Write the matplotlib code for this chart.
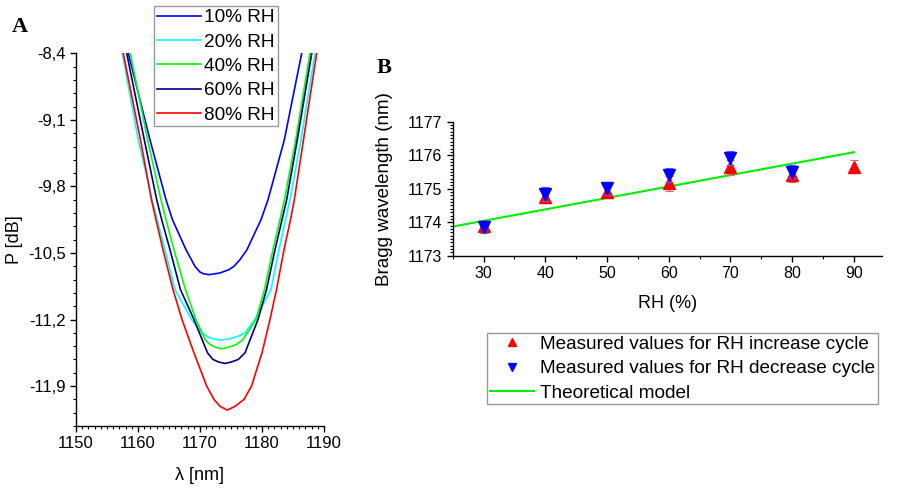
import matplotlib
matplotlib.use("Agg")
import matplotlib.pyplot as plt
from matplotlib.ticker import MultipleLocator, FuncFormatter

plt.rcParams['font.family'] = ['Liberation Sans', 'DejaVu Sans']

# panel A: transmission dips (wavelength nm, power dB)
rh10_x = [1158.44, 1161.94, 1164.52, 1165.56, 1167.74, 1169.19, 1170.0, 1170.65, 1171.5,
          1173.23, 1174.68, 1175.48, 1176.45, 1177.58, 1179.84, 1180.97, 1183.6, 1186.4]
rh10_y = [-8.4, -9.31, -9.94, -10.15, -10.465, -10.64, -10.701, -10.72, -10.728,
          -10.71, -10.675, -10.64, -10.57, -10.465, -10.15, -9.94, -9.31, -8.4]

rh20_x = [1157.47, 1160.05, 1162.26, 1164.35, 1165.97, 1168.66, 1170.27, 1171.61, 1173.23,
          1174.68, 1176.18, 1177.26, 1178.87, 1181.45, 1182.74, 1183.79, 1184.52, 1186.29, 1188.55]
rh20_y = [-8.4, -9.31, -9.94, -10.465, -10.885, -11.2, -11.34, -11.394, -11.417,
          -11.405, -11.375, -11.34, -11.2, -10.885, -10.465, -10.15, -9.94, -9.31, -8.4]

rh40_x = [1158.76, 1161.56, 1163.71, 1164.52, 1165.81, 1167.66, 1169.35, 1170.81, 1171.61, 1172.42, 1173.5,
          1174.68, 1175.89, 1176.94, 1179.03, 1180.4, 1181.77, 1182.9, 1183.63, 1185.44, 1187.74]
rh40_y = [-8.4, -9.31, -9.94, -10.15, -10.465, -10.885, -11.2, -11.41, -11.462, -11.49, -11.508,
          -11.49, -11.462, -11.41, -11.2, -10.885, -10.465, -10.15, -9.94, -9.31, -8.4]

rh60_x = [1158.18, 1161.02, 1163.02, 1163.82, 1165.16, 1166.85, 1169.03, 1171.21, 1172.1, 1172.98, 1174.03,
          1175.08, 1176.18, 1177.26, 1179.35, 1180.73, 1182.1, 1183.23, 1183.98, 1185.69, 1188.02]
rh60_y = [-8.4, -9.31, -9.94, -10.15, -10.465, -10.885, -11.2, -11.55, -11.62, -11.646, -11.662,
          -11.646, -11.62, -11.55, -11.2, -10.885, -10.465, -10.15, -9.94, -9.31, -8.4]

rh80_x = [1157.63, 1160.4, 1162.18, 1162.9, 1164.03, 1165.65, 1167.1, 1169.03, 1171.08, 1172.26, 1173.23, 1174.4,
          1175.65, 1177.1, 1178.31, 1180.0, 1181.29, 1182.34, 1183.55, 1184.6, 1185.21, 1186.69, 1188.82]
rh80_y = [-8.4, -9.31, -9.94, -10.15, -10.465, -10.885, -11.2, -11.55, -11.9, -12.04, -12.113, -12.152,
          -12.113, -12.04, -11.9, -11.55, -11.2, -10.885, -10.465, -10.15, -9.94, -9.31, -8.4]

curve_labels = ['10% RH', '20% RH', '40% RH', '60% RH', '80% RH']
curve_colors = ['#0000ff', '#00ffff', '#00ff00', '#000080', '#ff0000']

# panel B: Bragg wavelength vs RH
inc_rh = [30, 40, 50, 60, 70, 80, 90]
inc_wl = [1173.88, 1174.76, 1174.91, 1175.16, 1175.64, 1175.41, 1175.66]
inc_err = [0.15, 0.2, 0.18, 0.22, 0.22, 0.22, 0.2]

dec_rh = [30, 40, 50, 60, 70, 80]
dec_wl = [1173.87, 1174.84, 1175.01, 1175.41, 1175.91, 1175.51]
dec_err = [0.18, 0.2, 0.2, 0.21, 0.21, 0.2]

model_rh = [25, 90]
model_wl = [1173.87, 1176.09]

fig = plt.figure(figsize=(9.21, 4.88), dpi=100)

def style_axes(ax):
    ax.spines['top'].set_visible(False)
    ax.spines['right'].set_visible(False)
    for s in ['left', 'bottom']:
        ax.spines[s].set_linewidth(1.0)
    ax.tick_params(which='major', direction='out', length=4, width=1.0)
    ax.tick_params(which='minor', direction='out', length=2.5, width=0.8)

# ---- A ----
axA = fig.add_axes([0.0825, 0.127, 0.2693, 0.7637])
curves = [(rh10_x, rh10_y), (rh20_x, rh20_y), (rh40_x, rh40_y), (rh60_x, rh60_y), (rh80_x, rh80_y)]
for (cx, cy), lab, col in zip(curves, curve_labels, curve_colors):
    axA.plot(cx, cy, color=col, lw=1.2, label=lab, solid_joinstyle='round')
axA.set_xlim(1150, 1190)
axA.set_ylim(-12.32, -8.4)
axA.xaxis.set_major_locator(MultipleLocator(10))
axA.xaxis.set_minor_locator(MultipleLocator(1))
axA.yaxis.set_major_locator(MultipleLocator(0.7))
axA.yaxis.set_minor_locator(MultipleLocator(0.14))
axA.yaxis.set_major_formatter(FuncFormatter(lambda v, p: ('%.1f' % v).replace('.', ',')))
style_axes(axA)
axA.tick_params(labelsize=12)
axA.set_xlabel('λ [nm]', fontsize=13)
axA.set_ylabel('P [dB]', fontsize=13)
axA.yaxis.set_label_coords(-0.214, 0.5)
axA.xaxis.set_label_coords(0.5, -0.11)
hA, lA = axA.get_legend_handles_labels()
legA = fig.legend(hA, lA, loc='upper left', bbox_to_anchor=(154 / 921, 1 - 6 / 488),
                  fontsize=13.7, frameon=True, fancybox=False, edgecolor='#808080',
                  borderpad=0.15, handlelength=2.3, handletextpad=0.2, labelspacing=0.37,
                  borderaxespad=0)
legA.get_frame().set_linewidth(1.0)
fig.text(12 / 921, 1 - 32 / 488, 'A', fontsize=16, fontweight='bold',
         family='Liberation Serif', ha='left', va='baseline')

# ---- B ----
axB = fig.add_axes([0.4915, 0.476, 0.4658, 0.2746])
axB.plot(model_rh, model_wl, color='#00ee00', lw=1.5, zorder=1)
axB.errorbar(inc_rh, inc_wl, yerr=inc_err, fmt='none', ecolor='#ff6060', elinewidth=0.8,
             capsize=3, capthick=0.8, zorder=2)
axB.plot(inc_rh, inc_wl, '^', color='#ff0000', ms=8, mec='#ff0000', zorder=3)
axB.errorbar(dec_rh, dec_wl, yerr=dec_err, fmt='none', ecolor='#6060ff', elinewidth=0.8,
             capsize=3, capthick=0.8, zorder=4)
axB.plot(dec_rh, dec_wl, 'v', color='#0000ff', ms=8, mec='#0000ff', zorder=5)
axB.set_xlim(25, 94.5)
axB.set_ylim(1173, 1177)
axB.xaxis.set_major_locator(MultipleLocator(10))
axB.xaxis.set_minor_locator(MultipleLocator(5))
axB.yaxis.set_major_locator(MultipleLocator(1))
axB.yaxis.set_minor_locator(MultipleLocator(0.1))
style_axes(axB)
axB.tick_params(labelsize=11.5)
axB.set_xlabel('RH (%)', fontsize=13)
axB.set_ylabel('Bragg wavelength (nm)', fontsize=13.5)
axB.yaxis.set_label_coords(-0.138, 0.5)
axB.xaxis.set_label_coords(0.502, -0.293)

h1, = plt.plot([], [], '^', color='#ff0000', ms=6)
h2, = plt.plot([], [], 'v', color='#0000ff', ms=6)
h3, = plt.plot([], [], color='#00ee00', lw=1.5)
legB = fig.legend([h1, h2, h3],
                  ['Measured values for RH increase cycle',
                   'Measured values for RH decrease cycle',
                   'Theoretical model'],
                  loc='upper left', bbox_to_anchor=(487.3 / 921, 1 - 332.7 / 488),
                  fontsize=13.7, frameon=True, fancybox=False, edgecolor='#808080',
                  borderpad=0.15, handlelength=2.3, handletextpad=0.3, labelspacing=0.37,
                  borderaxespad=0, numpoints=1)
legB.get_frame().set_linewidth(1.0)
fig.text(377 / 921, 1 - 73 / 488, 'B', fontsize=16, fontweight='bold',
         family='Liberation Serif', ha='left', va='baseline')

fig.savefig('out.png', dpi=100)
